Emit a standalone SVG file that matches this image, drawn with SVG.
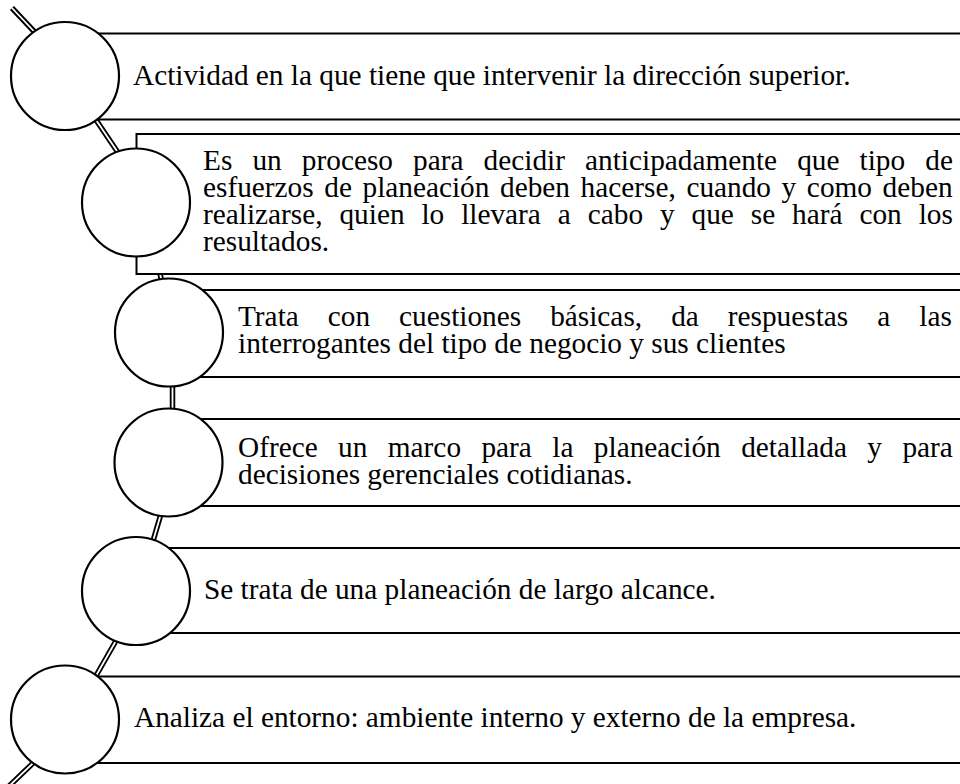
<svg xmlns="http://www.w3.org/2000/svg" xmlns:xlink="http://www.w3.org/1999/xlink" width="960" height="784" viewBox="0 0 960 784">
<defs>
<style>
.box{fill:#fff;stroke:#000;stroke-width:2}
.ring{fill:#fff;stroke:#000;stroke-width:2.2}
.t{font-family:"Liberation Serif","Times New Roman",serif;font-size:29.3px;fill:#000}
.outer{fill:none;stroke:#000;stroke-width:5.5;stroke-linecap:butt}
.inner{fill:none;stroke:#fff;stroke-width:1.8;stroke-linecap:butt}
</style>
<path id="chain" d="M12,8 L45,43 M90,111 L125,163 M150,230 L166,300 M172.5,360 L172.5,440 M168,490 L148,558 M125,625 L85,695 M54,743 L5,790"/>
</defs>
<rect width="960" height="784" fill="#fff"/>
<g id="connectors">
<use xlink:href="#chain" class="outer"/>
<use xlink:href="#chain" class="inner"/>
</g>
<g id="node1">
<rect class="box" x="65" y="33.5" width="910" height="86"/>
<circle class="ring" cx="65" cy="76" r="54"/>
<text class="t" x="133" y="85">Actividad en la que tiene que intervenir la dirección superior.</text>
</g>
<g id="node2">
<rect class="box" x="136.5" y="134" width="840" height="140"/>
<circle class="ring" cx="136" cy="202.5" r="54"/>
<text class="t"><tspan x="203" y="170" word-spacing="12.8">Es un proceso para decidir anticipadamente que tipo de</tspan><tspan x="203" y="197" word-spacing="3.3">esfuerzos de planeación deben hacerse, cuando y como deben</tspan><tspan x="203" y="224" word-spacing="9.6">realizarse, quien lo llevara a cabo y que se hará con los</tspan><tspan x="203" y="251">resultados.</tspan></text>
</g>
<g id="node3">
<rect class="box" x="169" y="290" width="800" height="87"/>
<circle class="ring" cx="169" cy="332.5" r="54"/>
<text class="t"><tspan x="238" y="326" word-spacing="21.7">Trata con cuestiones básicas, da respuestas a las</tspan><tspan x="238" y="353">interrogantes del tipo de negocio y sus clientes</tspan></text>
</g>
<g id="node4">
<rect class="box" x="168.5" y="419" width="800" height="87"/>
<circle class="ring" cx="168.5" cy="462.5" r="54"/>
<text class="t"><tspan x="238" y="457" word-spacing="13.1">Ofrece un marco para la planeación detallada y para</tspan><tspan x="238" y="484">decisiones gerenciales cotidianas.</tspan></text>
</g>
<g id="node5">
<rect class="box" x="136" y="548" width="840" height="85"/>
<circle class="ring" cx="136" cy="591" r="54"/>
<text class="t" x="204" y="599">Se trata de una planeación de largo alcance.</text>
</g>
<g id="node6">
<rect class="box" x="65" y="676.5" width="910" height="86.5"/>
<circle class="ring" cx="65" cy="719.5" r="54"/>
<text class="t" x="134" y="727">Analiza el entorno: ambiente interno y externo de la empresa.</text>
</g>
</svg>
